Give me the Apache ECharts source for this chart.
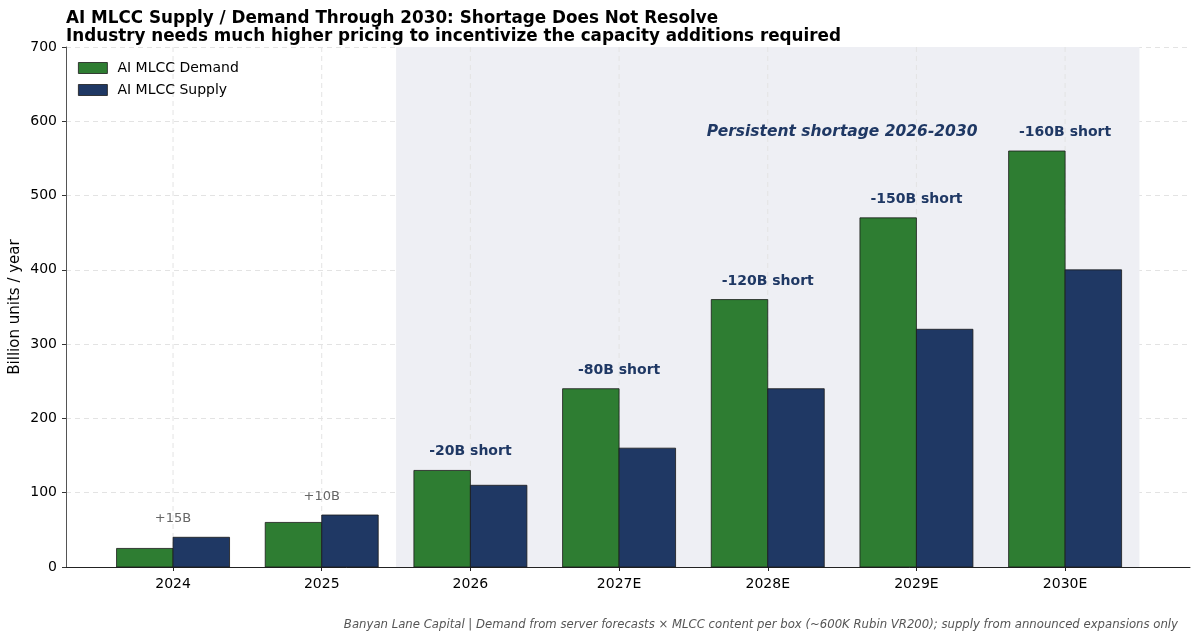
<!DOCTYPE html>
<html>
<head>
<meta charset="utf-8">
<title>AI MLCC Supply / Demand</title>
<script src="https://cdn.jsdelivr.net/npm/echarts@6/dist/echarts.min.js"></script>
<style>
  html, body { margin: 0; padding: 0; background: #fff; }
  #main { width: 1199px; height: 641px; }
</style>
</head>
<body>
<div id="main"></div>
<script type="text/javascript">
// data
var years = ['2024', '2025', '2026', '2027E', '2028E', '2029E', '2030E'];
var demand = [25, 60, 130, 240, 360, 470, 560];
var supply = [40, 70, 110, 160, 240, 320, 400];
var gapLabels = ['+15B', '+10B', '-20B short', '-80B short', '-120B short', '-150B short', '-160B short'];

var FONT = 'DejaVu Sans';
var GREEN = '#2e7d32';
var NAVY = '#1f3864';
var BAR_W = 0.38;

var idx = years.map(function (y, i) { return i; });

function barSeries(name, vals, color, offset) {
    return {
        name: name,
        type: 'custom',
        itemStyle: { color: color },
        data: vals.map(function (v, i) { return [i, v]; }),
        renderItem: function (params, api) {
            var x = api.value(0) + offset;
            var p0 = api.coord([x - BAR_W / 2, api.value(1)]);
            var p1 = api.coord([x + BAR_W / 2, 0]);
            return {
                type: 'rect',
                shape: { x: p0[0], y: p0[1], width: p1[0] - p0[0], height: p1[1] - p0[1] },
                style: { fill: color, stroke: '#1a1a1a', lineWidth: 0.8 }
            };
        },
        z: 3
    };
}

// labels above the taller bar of each year
var gapData = idx.map(function (i) {
    return [i, Math.max(demand[i], supply[i]) + 25, gapLabels[i]];
});

var myChart = echarts.init(document.getElementById('main'));

var option = {
    animation: false,
    backgroundColor: '#fff',
    title: {
        text: 'AI MLCC Supply / Demand Through 2030: Shortage Does Not Resolve\nIndustry needs much higher pricing to incentivize the capacity additions required',
        left: 66, top: 9, padding: 0,
        textStyle: { fontFamily: FONT, fontWeight: 'bold', fontSize: 16.8, color: '#000', lineHeight: 18.5 }
    },
    legend: {
        left: 78, top: 61, orient: 'vertical', itemGap: 8, padding: 0,
        itemWidth: 29, itemHeight: 11, icon: 'rect',
        textStyle: { fontFamily: FONT, fontSize: 14, color: '#000', padding: [0, 0, 0, 5] },
        data: [
            { name: 'AI MLCC Demand', itemStyle: { color: GREEN, borderColor: '#1a1a1a', borderWidth: 0.8 } },
            { name: 'AI MLCC Supply', itemStyle: { color: NAVY, borderColor: '#1a1a1a', borderWidth: 0.8 } }
        ]
    },
    grid: { left: 66, right: 9, top: 47, bottom: 74, outerBoundsMode: 'none' },
    xAxis: {
        type: 'value', min: -0.72, max: 6.84,
        axisLine: { show: true, onZero: false, lineStyle: { color: '#222', width: 1 } },
        axisTick: { show: true, customValues: idx, length: 4, lineStyle: { color: '#222' } },
        axisLabel: {
            customValues: idx, fontFamily: FONT, fontSize: 14, color: '#000', margin: 10,
            formatter: function (v) { return years[Math.round(v)]; }
        },
        splitLine: { show: false }
    },
    yAxis: {
        type: 'value', min: 0, max: 700, interval: 100,
        name: 'Billion units / year', nameLocation: 'middle', nameGap: 43, nameMoveOverlap: false,
        nameTextStyle: { fontFamily: FONT, fontSize: 15, color: '#000' },
        axisLine: { show: true, onZero: false, lineStyle: { color: '#555', width: 1 } },
        axisTick: { show: true, length: 4, lineStyle: { color: '#333' } },
        axisLabel: { fontFamily: FONT, fontSize: 14, color: '#000', margin: 9 },
        splitLine: { show: true, lineStyle: { color: '#e3e3e3', type: [5, 4], width: 1 } }
    },
    graphic: [{
        type: 'text', right: 21, top: 619,
        style: {
            text: 'Banyan Lane Capital | Demand from server forecasts \u00d7 MLCC content per box (~600K Rubin VR200); supply from announced expansions only',
            font: 'italic 11.7px "DejaVu Sans"', fill: '#555'
        }
    }],
    series: [
        // shaded forecast window
        {
            type: 'custom', silent: true, z: 1,
            data: [[1.5, 6.5]],
            renderItem: function (params, api) {
                var a = api.coord([api.value(0), 700]);
                var b = api.coord([api.value(1), 0]);
                return { type: 'rect', shape: { x: a[0], y: a[1], width: b[0] - a[0], height: b[1] - a[1] },
                    style: { fill: '#eeeff4' } };
            }
        },
        // vertical grid lines at category ticks
        {
            type: 'custom', silent: true, z: 2,
            data: idx.map(function (i) { return [i]; }),
            renderItem: function (params, api) {
                var a = api.coord([api.value(0), 700]);
                var b = api.coord([api.value(0), 0]);
                return { type: 'line', shape: { x1: a[0], y1: a[1], x2: b[0], y2: b[1] },
                    style: { stroke: '#e3e3e3', lineDash: [5, 4], lineWidth: 1 } };
            }
        },
        barSeries('AI MLCC Demand', demand, GREEN, -BAR_W / 2),
        barSeries('AI MLCC Supply', supply, NAVY, BAR_W / 2),
        {
            type: 'custom', silent: true, z: 4,
            data: gapData,
            renderItem: function (params, api) {
                var i = params.dataIndex;
                var p = api.coord([api.value(0), api.value(1)]);
                var shortage = demand[i] > supply[i];
                return { type: 'text', x: p[0], y: p[1],
                    style: { text: gapLabels[i], align: 'center', verticalAlign: 'middle',
                        font: (shortage ? 'bold 14px' : '13px') + ' "DejaVu Sans"',
                        fill: shortage ? NAVY : '#666' } };
            }
        },
        {
            type: 'custom', silent: true, z: 4,
            data: [[4.5, 585]],
            renderItem: function (params, api) {
                var p = api.coord([api.value(0), api.value(1)]);
                return { type: 'text', x: p[0], y: p[1],
                    style: { text: 'Persistent shortage 2026-2030', align: 'center', verticalAlign: 'middle',
                        font: 'italic bold 15.5px "DejaVu Sans"', fill: NAVY } };
            }
        }
    ]
};

myChart.setOption(option);
</script>
</body>
</html>
